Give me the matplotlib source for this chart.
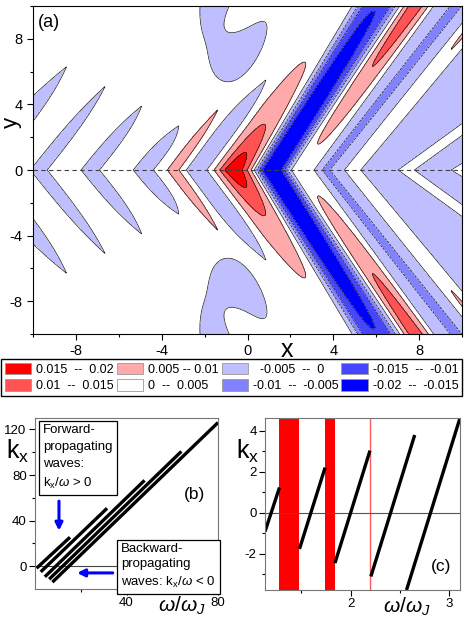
import numpy as np
import matplotlib
matplotlib.use("Agg")
import matplotlib.pyplot as plt
from matplotlib.patches import Patch

plt.rcParams['font.family'] = ['Liberation Sans', 'DejaVu Sans']
plt.rcParams['mathtext.fontset'] = 'custom'
plt.rcParams['mathtext.rm'] = 'Liberation Sans'
plt.rcParams['mathtext.it'] = 'Liberation Sans:italic'
plt.rcParams['axes.unicode_minus'] = False

# ---- panel (a): contour levels / legend ----
levels = [-0.02, -0.015, -0.01, -0.005, 0, 0.005, 0.01, 0.015, 0.02]
fill_colors = ["#0000ff", "#4646ff", "#8282ff", "#bfbfff",
               "#ffffff", "#ffaaaa", "#ff5252", "#ff0000"]
legend_labels = ["0.015  --  0.02", "0.01  --  0.015",
                 "0.005 -- 0.01", "0  --  0.005",
                 "  -0.005  --  0", "-0.01  --  -0.005",
                 "-0.015  --  -0.01", "-0.02  --  -0.015"]
legend_colors = ["#ff0000", "#ff5252", "#ffaaaa", "#ffffff",
                 "#bfbfff", "#8282ff", "#4646ff", "#0000ff"]

background = 0.0025

# chevron ridges: vertex centre on y=0, arm slope dy/dx,
# width, width growth per unit |y|, amplitude on axis, amplitude change per
# unit |y|, decay length, arm tip
chev_c     = [-12.5, -9.73, -7.33, -4.86, -3.45, -2.34, -0.65, 1.13, 2.42, 3.66, 4.9, 7.4, 9.9]
chev_s     = [1.55, 1.65, 1.63, 1.63, 1.78, 1.72, 2.0, 2.05, 1.85, 1.65, 1.6, 0.95, 0.8]
chev_w     = [0.70, 0.42, 0.46, 0.50, 0.31, 0.56, 0.72, 0.73, 0.50, 0.26, 0.47, 0.47, 0.50]
chev_wgrow = [0, 0, 0, 0, 0, 0, 0.03, 0.03, 0, 0, 0, 0, 0]
chev_a0    = [-0.006, -0.006, -0.006, -0.006, 0.006, -0.006, 0.0172, -0.0221,
              0.0009, -0.0037, 0.0052, 0.0052, 0.0052]
chev_a1    = [0, 0, 0, 0, 0, 0, 0, 0.00047, 0.00105, -0.0003, 0.00034, 0, 0]
chev_decay = [np.inf] * 6 + [3.5] + [np.inf] * 6
chev_tip   = [6.3, 5.1, 3.9, 2.7, 3.7, 5.5] + [np.inf] * 7
chev_pow   = [2, 2, 2, 2, 2, 2, 2, 3, 2, 2, 2, 2, 2]

# negative shelf on the right of the map
shelf_c, shelf_s, shelf_w, shelf_a = 3.1, 1.8, 0.12, -0.0052

# blob near x=0, |y|=6..10 and the hole cut into it
blob_x, blob_y, blob_sx, blob_sy, blob_shear, blob_a = [-0.4], [10.5], [1.85], [5.3], [9.0], [-0.0065]
hole_x, hole_y, hole_sx, hole_sy, hole_shear = [0.3], [10.7], [1.25], [3.0], [2.33]

# ---- panel (b) ----
b_x0 = [0.7, 2.5, 4.3, 6.2, 7.6]
b_y0 = [-1.75, -5.0, -9.3, -11.4, -14.0]
b_x1 = [15.3, 31.5, 47.9, 64.0, 80.0]
b_y1 = [25.4, 50.8, 75.3, 100.7, 126.0]

# ---- panel (c) ----
c_x0 = [1.13, 1.48, 1.84, 2.205, 2.567]
c_y0 = [-0.91, -1.76, -2.45, -3.10, -3.76]
c_x1 = [1.277, 1.74, 2.196, 2.65, 3.11]
c_y1 = [1.24, 2.21, 3.04, 3.80, 4.63]
gap_lo = [1.277, 1.743]
gap_hi = [1.476, 1.838]
gap_line = 2.199


def field(X, Y):
    ay = np.abs(Y)
    F = np.full_like(X, background)
    for c, s, w, wg, a0, a1, ly, tip, p in zip(chev_c, chev_s, chev_w, chev_wgrow, chev_a0,
                                               chev_a1, chev_decay, chev_tip, chev_pow):
        xi = X - ay / s - c
        amp = a0 * np.exp(-ay / ly) + a1 * ay
        taper = 1 - (ay / tip) ** 3
        width = w * (1 + wg * ay) * np.clip(taper, 1e-3, None)
        F += np.where(taper > 0, amp * np.exp(-np.abs(xi / width) ** p), 0.0)
    xi = X - ay / shelf_s - shelf_c
    F += shelf_a * 0.5 * (1 + np.tanh(xi / shelf_w))
    for i in range(len(blob_x)):
        u = X - blob_x[i] - (ay - blob_y[i]) / blob_shear[i]
        g = np.exp(-(u / blob_sx[i]) ** 2 - ((ay - blob_y[i]) / blob_sy[i]) ** 2)
        uh = X - hole_x[i] - (ay - hole_y[i]) / hole_shear[i]
        h = np.exp(-(uh / hole_sx[i]) ** 2 - ((ay - hole_y[i]) / hole_sy[i]) ** 2)
        F += blob_a[i] * g * (1 - h)
    return F


fig = plt.figure(figsize=(4.74, 6.21), dpi=100)

# ---------------- (a) ----------------
ax = fig.add_axes([33 / 474, 1 - 334 / 621, 429 / 474, 328 / 621])
x = np.linspace(-10, 10, 801)
y = np.linspace(-10, 10, 801)
X, Y = np.meshgrid(x, y)
F = field(X, Y)
fill_levels = [-1.0] + levels[1:-1] + [1.0]
ax.contourf(X, Y, F, levels=fill_levels, colors=fill_colors)
ax.contour(X, Y, F, levels=levels[1:-1], colors='#1a1a1a', linewidths=0.5)
ax.axhline(0, color='#404040', lw=0.8, ls=(0, (4, 3)))
ax.set_xlim(-10, 10)
ax.set_ylim(-10, 10)
ax.set_xticks([-8, -4, 0, 4, 8])
ax.set_yticks([-8, -4, 0, 4, 8])
ax.set_xticks(np.arange(-10, 11, 2), minor=True)
ax.set_yticks(np.arange(-10, 11, 2), minor=True)
ax.tick_params(which='major', length=4, width=0.8, labelsize=10.5)
ax.tick_params(which='minor', length=2.5, width=0.8)
ax.text(0.592, -0.049, 'x', transform=ax.transAxes, fontsize=18, ha='center', va='center')
fig.text(11 / 474, 1 - 122 / 621, 'y', fontsize=16, ha='center', va='center', rotation=90)
ax.text(0.012, 0.975, '(a)', transform=ax.transAxes, fontsize=13, va='top', ha='left')

handles = [Patch(facecolor=c, edgecolor='#999999', lw=0.6) for c in legend_colors]
fig.legend(handles, legend_labels, ncol=4, loc='upper left',
           bbox_to_anchor=(1 / 474, 1 - 398 / 621, 461 / 474, 39 / 621), mode='expand',
           borderaxespad=0, fontsize=9, handlelength=2.1, handleheight=1.0,
           labelspacing=0.3, handletextpad=0.4, borderpad=0.3,
           fancybox=False, edgecolor='black', framealpha=1)

# ---------------- (b) ----------------
axb = fig.add_axes([35 / 474, 1 - 589 / 621, 183 / 474, 171 / 621])
axb.axhline(0, color='#444444', lw=0.8)
for x0, y0, x1, y1 in zip(b_x0, b_y0, b_x1, b_y1):
    axb.plot([x0, x1], [y0, y1], color='black', lw=2.4, solid_capstyle='butt')
axb.set_xlim(0, 80)
axb.set_ylim(-20, 130)
axb.set_xticks([40, 80])
axb.set_xticks([20, 60], minor=True)
axb.set_yticks([0, 40, 80, 120])
axb.set_yticks([20, 60, 100], minor=True)
axb.tick_params(which='major', length=4, width=0.8, labelsize=9.5, pad=2)
axb.tick_params(which='minor', length=2.5, width=0.8)
for sp in axb.spines.values():
    sp.set_color('#777777')
fig.text(6 / 474, 1 - 451 / 621, r'k$_\mathregular{x}$', fontsize=18, ha='left', va='center')
axb.text(0.80, -0.1, r'$\omega$/$\omega_J$', transform=axb.transAxes, fontsize=15,
         ha='center', va='center')
axb.text(0.87, 0.55, '(b)', transform=axb.transAxes, fontsize=12.5, ha='center', va='center')
box = dict(boxstyle='square,pad=0.32', fc='white', ec='black', lw=0.9)
axb.text(0.045, 0.965, 'Forward-\npropagating\nwaves:\n' + r'k$_\mathregular{x}$/$\omega$ > 0',
         transform=axb.transAxes, fontsize=9.5, ha='left', va='top', linespacing=1.55,
         bbox=box)
axb.text(0.47, 0.27, 'Backward-\npropagating\nwaves: ' + r'k$_\mathregular{x}$/$\omega$ < 0',
         transform=axb.transAxes, fontsize=9.5, ha='left', va='top', linespacing=1.4,
         bbox=box)
arrow = dict(arrowstyle='-|>', color='#0000ff', lw=2.2, mutation_scale=11)
axb.annotate('', xy=(0.131, 0.325), xytext=(0.131, 0.53), xycoords='axes fraction',
             arrowprops=arrow)
axb.annotate('', xy=(0.215, 0.094), xytext=(0.44, 0.094), xycoords='axes fraction',
             arrowprops=arrow)

# ---------------- (c) ----------------
axc = fig.add_axes([265 / 474, 1 - 590 / 621, 195 / 474, 172 / 621])
for lo, hi in zip(gap_lo, gap_hi):
    axc.axvspan(lo, hi, color='#ff0000', lw=0)
axc.axvline(gap_line, color='#ff5a5a', lw=1.0)
axc.axhline(0, color='#555555', lw=0.8)
for x0, y0, x1, y1 in zip(c_x0, c_y0, c_x1, c_y1):
    axc.plot([x0, x1], [y0, y1], color='black', lw=2.4, solid_capstyle='butt')
axc.set_xlim(1.13, 3.11)
axc.set_ylim(-3.76, 4.63)
axc.set_xticks([2, 3])
axc.set_xticks([1.5, 2.5], minor=True)
axc.set_yticks([-2, 0, 2, 4])
axc.set_yticks([-3, -1, 1, 3], minor=True)
axc.tick_params(which='major', length=4, width=0.8, labelsize=9.5, pad=2)
axc.tick_params(which='minor', length=2.5, width=0.8)
for sp in axc.spines.values():
    sp.set_color('#777777')
fig.text(236 / 474, 1 - 451 / 621, r'k$_\mathregular{x}$', fontsize=18, ha='left', va='center')
axc.text(0.73, -0.1, r'$\omega$/$\omega_J$', transform=axc.transAxes, fontsize=15,
         ha='center', va='center')
axc.text(0.905, 0.135, '(c)', transform=axc.transAxes, fontsize=12.5, ha='center', va='center')

fig.savefig('out.png', dpi=100)
